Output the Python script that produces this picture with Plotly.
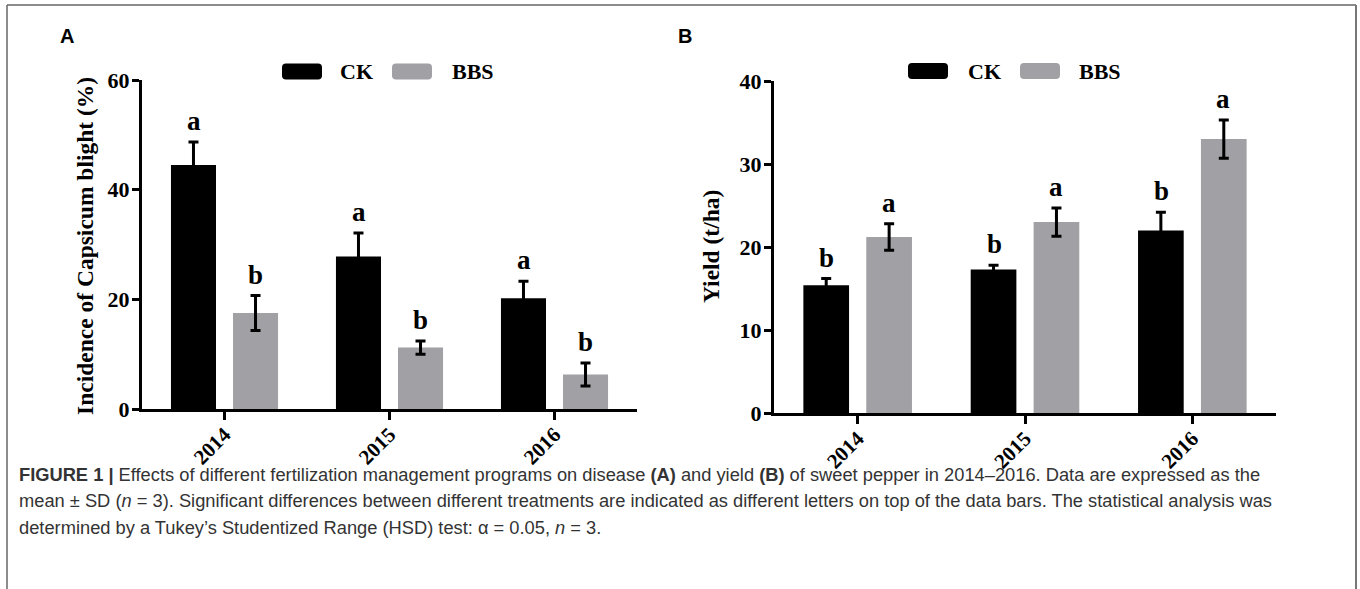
import plotly.graph_objects as go

# ---- data -------------------------------------------------------------
years = ["2014", "2015", "2016"]

# Panel A: incidence of Capsicum blight (%)
incidence_ck = [44.5, 27.8, 20.2]
incidence_ck_sd = [4.2, 4.3, 3.1]
incidence_bbs = [17.5, 11.2, 6.3]
incidence_bbs_sd = [3.2, 1.2, 2.1]
incidence_ck_letters = ["a", "a", "a"]
incidence_bbs_letters = ["b", "b", "b"]

# Panel B: yield (t/ha)
yield_ck = [15.4, 17.3, 22.0]
yield_ck_sd = [0.8, 0.5, 2.2]
yield_bbs = [21.2, 23.0, 33.0]
yield_bbs_sd = [1.6, 1.7, 2.3]
yield_ck_letters = ["b", "b", "b"]
yield_bbs_letters = ["a", "a", "a"]

series_names = ["CK", "BBS"]

# ---- styling ----------------------------------------------------------
W, H = 1360, 589
BLACK = "#000000"
GREY = "rgb(160,160,165)"
SERIF = "Liberation Serif"
SANS = "Liberation Sans"


def px_x(p):
    return p / W


def px_y(p):
    return 1 - p / H


fig = go.Figure()

panels = [
    dict(xa="x", ya="y", ck=incidence_ck, ck_sd=incidence_ck_sd,
         bbs=incidence_bbs, bbs_sd=incidence_bbs_sd,
         ck_lab=incidence_ck_letters, bbs_lab=incidence_bbs_letters),
    dict(xa="x2", ya="y2", ck=yield_ck, ck_sd=yield_ck_sd,
         bbs=yield_bbs, bbs_sd=yield_bbs_sd,
         ck_lab=yield_ck_letters, bbs_lab=yield_bbs_letters),
]

for p in panels:
    for name, vals, sds, col in [
        (series_names[0], p["ck"], p["ck_sd"], BLACK),
        (series_names[1], p["bbs"], p["bbs_sd"], GREY),
    ]:
        fig.add_trace(go.Bar(
            x=years, y=vals, name=name, xaxis=p["xa"], yaxis=p["ya"],
            marker=dict(color=col, line=dict(width=0)),
            error_y=dict(type="data", array=sds, color=BLACK,
                         thickness=3, width=5),
            showlegend=False,
        ))

axis_common = dict(
    showline=True, linecolor=BLACK, linewidth=3, ticks="outside",
    tickwidth=3, tickcolor=BLACK, showgrid=False, zeroline=False,
    automargin=False,
)
tick_font_x = dict(family=SERIF, size=21, color=BLACK, weight="bold")
tick_font_y = dict(family=SERIF, size=22, color=BLACK, weight="bold")
x_axis = dict(type="category", tickangle=-45, ticklen=8, range=[-0.5, 2.5],
              ticklabelstandoff=-6, tickfont=tick_font_x, **axis_common)
y_axis = dict(ticklen=7, ticklabelstandoff=-2, tickfont=tick_font_y,
              **axis_common)

fig.update_layout(
    template="none",
    width=W, height=H, autosize=False,
    margin=dict(l=0, r=0, t=0, b=0, pad=0, autoexpand=False),
    paper_bgcolor="white", plot_bgcolor="white",
    barmode="group", bargap=0.248, bargroupgap=0.274,
    xaxis=dict(domain=[px_x(142), px_x(637)], anchor="y", **x_axis),
    yaxis=dict(domain=[px_y(409), px_y(80)], range=[0, 60],
               tickvals=[0, 20, 40, 60], anchor="x", **y_axis),
    xaxis2=dict(domain=[px_x(774), px_x(1276)], anchor="y2", **x_axis),
    yaxis2=dict(domain=[px_y(413), px_y(81)], range=[0, 40],
                tickvals=[0, 10, 20, 30, 40], anchor="x2", **y_axis),
)

annotations = []
letter_font = dict(family=SERIF, size=27, color=BLACK, weight="bold")
shift = 31  # half distance between the two bar centres of a group (px)
for p in panels:
    for vals, sds, labs, dx in [
        (p["ck"], p["ck_sd"], p["ck_lab"], -shift),
        (p["bbs"], p["bbs_sd"], p["bbs_lab"], shift),
    ]:
        for i, (v, s, lab) in enumerate(zip(vals, sds, labs)):
            annotations.append(dict(
                x=i, y=v + s, xref=p["xa"], yref=p["ya"], text=lab,
                showarrow=False, xshift=dx, yshift=4, xanchor="center",
                yanchor="bottom", font=letter_font,
            ))

# axis titles
title_font = dict(family=SERIF, size=23.5, color=BLACK, weight="bold")
annotations.append(dict(x=px_x(85), y=px_y(246), xref="paper", yref="paper",
                        text="Incidence of Capsicum blight (%)", textangle=-90,
                        xanchor="center", yanchor="middle",
                        showarrow=False, font=title_font))
annotations.append(dict(x=px_x(711), y=px_y(247), xref="paper", yref="paper",
                        text="Yield (t/ha)", textangle=-90,
                        xanchor="center", yanchor="middle",
                        showarrow=False, font=title_font))

# panel letters
for lab, x in [("A", 58), ("B", 676)]:
    annotations.append(dict(x=px_x(x), y=px_y(36), xref="paper", yref="paper",
                            text=lab, showarrow=False, xanchor="left",
                            yanchor="middle",
                            font=dict(family=SANS, size=20, color=BLACK,
                                      weight="bold")))

# legends (swatch + label) for each panel
def swatch_path(w=40, h=16, r=4):
    a, b = w / 2, h / 2
    return (f"M {-a + r},{-b} L {a - r},{-b} Q {a},{-b} {a},{-b + r} "
            f"L {a},{b - r} Q {a},{b} {a - r},{b} L {-a + r},{b} "
            f"Q {-a},{b} {-a},{b - r} L {-a},{-b + r} Q {-a},{-b} {-a + r},{-b} Z")


shapes = []
legend_font = dict(family=SERIF, size=22, color=BLACK, weight="bold")
legend_items = [
    (302, 71.5, 338, BLACK, series_names[0]),
    (412, 71.5, 450, GREY, series_names[1]),
    (928, 71, 966, BLACK, series_names[0]),
    (1040, 71, 1077, GREY, series_names[1]),
]
for cx, cy, tx, col, name in legend_items:
    shapes.append(dict(type="path", xref="paper", yref="paper",
                       xsizemode="pixel", ysizemode="pixel",
                       xanchor=px_x(cx), yanchor=px_y(cy),
                       path=swatch_path(), fillcolor=col,
                       line=dict(width=0)))
    annotations.append(dict(x=px_x(tx), y=px_y(cy), xref="paper",
                            yref="paper", text=name, showarrow=False,
                            xanchor="left", yanchor="middle",
                            font=legend_font))

# frame around the figure (open at the bottom)
frame = dict(color="#666666", width=1.5)
shapes += [
    dict(type="line", xref="paper", yref="paper", x0=px_x(7), x1=px_x(1356),
         y0=px_y(5), y1=px_y(5), line=frame),
    dict(type="line", xref="paper", yref="paper", x0=px_x(7), x1=px_x(7),
         y0=px_y(5), y1=0, line=frame),
    dict(type="line", xref="paper", yref="paper", x0=px_x(1356),
         x1=px_x(1356), y0=px_y(5), y1=0, line=dict(color="#777777", width=2)),
]

# caption
cap_font = dict(family=SANS, size=18.3, color="#333333")
caption_lines = [
    "<b>FIGURE 1 |</b> Effects of different fertilization management programs "
    "on disease <b>(A)</b> and yield <b>(B)</b> of sweet pepper in 2014–2016. "
    "Data are expressed as the",
    "mean ± SD (<i>n</i> = 3). Significant differences between different "
    "treatments are indicated as different letters on top of the data bars. "
    "The statistical analysis was",
    "determined by a Tukey’s Studentized Range (HSD) test: α = 0.05, "
    "<i>n</i> = 3.",
]
for i, line in enumerate(caption_lines):
    annotations.append(dict(x=px_x(17), y=px_y(474 + 26.5 * i), xref="paper",
                            yref="paper", text=line, showarrow=False,
                            xanchor="left", yanchor="middle", font=cap_font))

fig.update_layout(annotations=annotations, shapes=shapes)

# make the page exactly the size of the figure
page_css = (
    "document.documentElement.style.margin='0';"
    "document.documentElement.style.padding='0';"
    "document.documentElement.style.overflow='hidden';"
    "document.body.style.margin='0';"
    "document.body.style.padding='0';"
    "document.body.style.overflow='hidden';"
)
fig.write_html("out.html", post_script=page_css)
